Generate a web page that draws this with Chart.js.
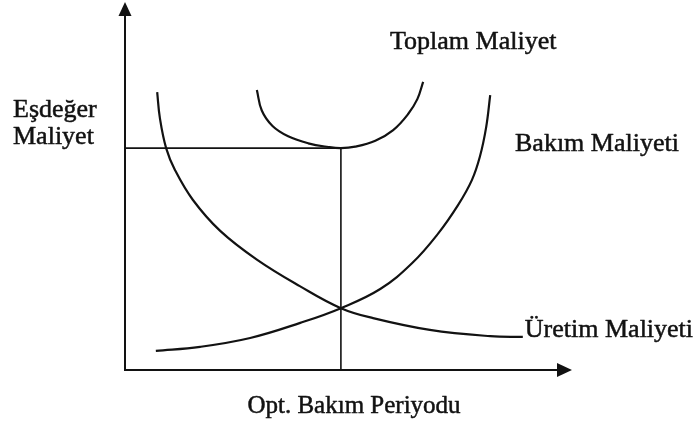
<!DOCTYPE html>
<html><head><meta charset="utf-8">
<script src="https://cdn.jsdelivr.net/npm/chart.js@4"></script>
<style>html,body{margin:0;padding:0;background:#fff;} #wrap{width:699px;height:426px;}</style>
</head><body><div id="wrap"><canvas id="c" width="699" height="426"></canvas></div>
<script>
// Schematic data (arbitrary units 0..100 on both axes)
const toplamX = [29.5, 30.6, 33.0, 36.5, 41.0, 45.5, 48.3, 51.5, 56.0, 60.0, 63.3, 65.4, 66.7];
const toplamY = [76.1, 70.5, 66.3, 63.5, 61.6, 60.6, 60.3, 60.7, 62.3, 65.2, 69.5, 73.6, 78.3];

const bakimX = [6.9, 16.8, 28.0, 39.2, 48.3, 57.1, 64.2, 70.0, 74.5, 77.6, 79.4, 80.8, 81.7];
const bakimY = [5.2, 6.3, 8.7, 12.8, 16.8, 22.0, 29.0, 37.0, 44.8, 51.6, 58.0, 66.0, 74.7];

const uretimX = [7.2, 7.8, 9.2, 11.2, 15.2, 21.3, 29.5, 39.1, 48.3, 55.5, 68.2, 81.7, 89.0];
const uretimY = [75.5, 68.5, 60.3, 54.3, 46.2, 37.8, 30.0, 22.8, 16.8, 14.1, 10.9, 9.2, 9.0];

const optPeriod = 48.3;   // optimum maintenance period
const optCost = 60.3;     // minimum equivalent cost

const seriesNames = ['Toplam Maliyet', 'Bakım Maliyeti', 'Üretim Maliyeti'];
const xTitle = 'Opt. Bakım Periyodu';
const yTitle = ['Eşdeğer', 'Maliyet'];

function pts(xs, ys) { return xs.map((x, i) => ({ x: x, y: ys[i] })); }

const ink = '#121212';
const FONT = '26px "Liberation Serif", "Times New Roman", serif';
const FONT_X = '25px "Liberation Serif", "Times New Roman", serif';

const curve = (label, data) => ({
  label, data, borderColor: ink, borderWidth: 2.2, pointRadius: 0,
  tension: 0.4, fill: false
});

function txt(c, s, x, y) {
  c.fillText(s, x, y);
  c.strokeText(s, x, y);
}

const annotate = {
  id: 'annotate',
  afterDatasetsDraw(chart) {
    const c = chart.ctx, a = chart.chartArea;
    const xs = chart.scales.x, ys = chart.scales.y;
    c.save();
    c.strokeStyle = ink; c.fillStyle = ink; c.lineWidth = 2;
    // y axis
    c.beginPath(); c.moveTo(a.left, a.bottom + 1); c.lineTo(a.left, a.top + 12); c.stroke();
    c.beginPath(); c.moveTo(a.left, a.top); c.lineTo(a.left - 6.5, a.top + 14); c.lineTo(a.left + 6.5, a.top + 14); c.closePath(); c.fill();
    // x axis
    c.beginPath(); c.moveTo(a.left - 1, a.bottom); c.lineTo(a.right - 12, a.bottom); c.stroke();
    c.beginPath(); c.moveTo(a.right, a.bottom); c.lineTo(a.right - 15, a.bottom - 7); c.lineTo(a.right - 15, a.bottom + 7); c.closePath(); c.fill();

    // texts
    c.lineWidth = 0.5; c.lineJoin = 'round';
    c.font = FONT; c.textBaseline = 'alphabetic'; c.textAlign = 'left';
    txt(c, seriesNames[0], 390, 49);
    txt(c, seriesNames[1], 515, 151);
    const ux = xs.getPixelForValue(uretimX[uretimX.length - 1]);
    const uy = ys.getPixelForValue(uretimY[uretimY.length - 1]);
    txt(c, seriesNames[2], ux + 2, uy);
    txt(c, yTitle[0], 13, 117);
    txt(c, yTitle[1], 13, 144);
    c.font = FONT_X; c.textAlign = 'center';
    txt(c, xTitle, 354, 413);
    c.restore();
  }
};

new Chart(document.getElementById('c'), {
  type: 'line',
  data: {
    datasets: [
      curve(seriesNames[0], pts(toplamX, toplamY)),
      curve(seriesNames[1], pts(bakimX, bakimY)),
      curve(seriesNames[2], pts(uretimX, uretimY)),
      { label: 'opt-h', data: [{ x: 0, y: optCost }, { x: optPeriod, y: optCost }],
        borderColor: ink, borderWidth: 1.6, pointRadius: 0, tension: 0 },
      { label: 'opt-v', data: [{ x: optPeriod, y: optCost }, { x: optPeriod, y: 0 }],
        borderColor: ink, borderWidth: 1.6, pointRadius: 0, tension: 0 }
    ]
  },
  options: {
    responsive: false, animation: false, devicePixelRatio: 1,
    layout: { padding: { left: 125, top: 2, right: 127, bottom: 56 } },
    scales: {
      x: { type: 'linear', min: 0, max: 100, display: false },
      y: { type: 'linear', min: 0, max: 100, display: false }
    },
    plugins: { legend: { display: false }, tooltip: { enabled: false } },
    elements: { point: { radius: 0 } }
  },
  plugins: [annotate]
});
</script>
</body></html>
